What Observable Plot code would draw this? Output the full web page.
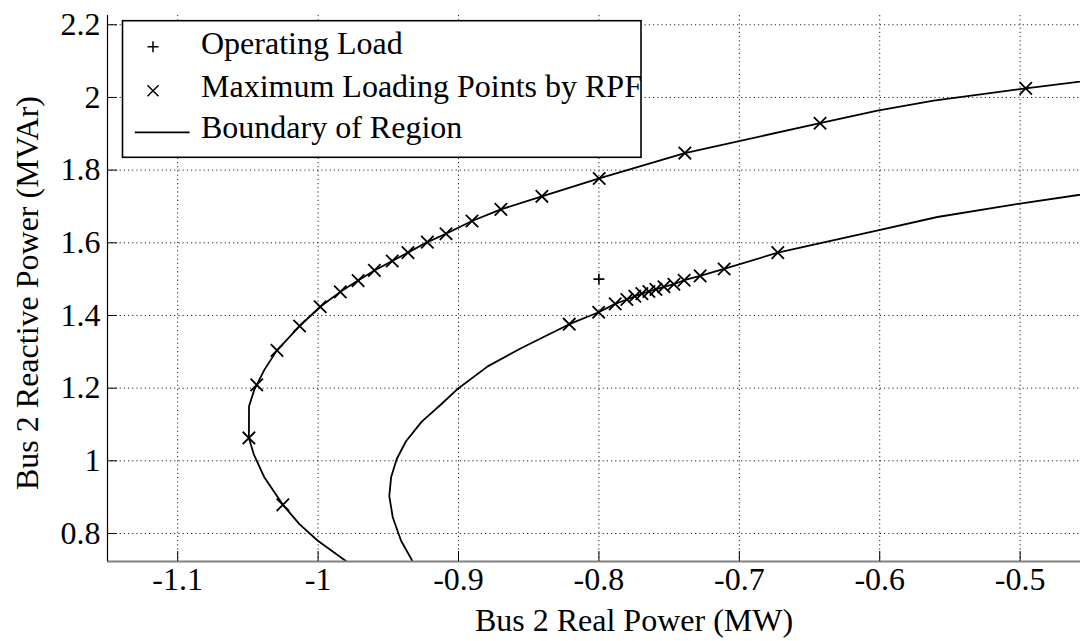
<!DOCTYPE html>
<html><head><meta charset="utf-8">
<script src="https://cdn.jsdelivr.net/npm/d3@7"></script>
<script src="https://cdn.jsdelivr.net/npm/@observablehq/plot@0.6"></script>
<style>
html,body{margin:0;padding:0;background:#fff;overflow:hidden;}
#wrap{position:relative;width:1080px;height:641px;overflow:hidden;}
</style></head><body><div id="wrap"></div>
<script>
// ---- tick values and labels ----
const xTicks = [-1.1, -1, -0.9, -0.8, -0.7, -0.6, -0.5];
const xTickLabels = ["-1.1", "-1", "-0.9", "-0.8", "-0.7", "-0.6", "-0.5"];
const yTicks = [0.8, 1, 1.2, 1.4, 1.6, 1.8, 2, 2.2];
const yTickLabels = ["0.8", "1", "1.2", "1.4", "1.6", "1.8", "2", "2.2"];
const xLimits = [-1.15, -0.4];          // full axis limits (plot is cropped on the right)
const xVisible = [-1.15, -0.457];
const yLimits = [0.723, 2.2255];
const xLabel = "Bus 2 Real Power (MW)";
const yLabel = "Bus 2 Reactive Power (MVAr)";
const legendLabels = ["Operating Load", "Maximum Loading Points by RPF", "Boundary of Region"];

// ---- outer boundary curve ----
const outerP = [-0.9747, -1.0002, -1.0133, -1.0251, -1.0382, -1.0458, -1.0493, -1.0492, -1.0454, -1.0437, -1.0382,
  -1.0293, -1.0132, -0.9985, -0.9842, -0.9715, -0.9599, -0.9472, -0.9360, -0.9222, -0.9089, -0.8904, -0.8698,
  -0.8406, -0.7998, -0.7388, -0.6425, -0.6016, -0.5616, -0.4960, -0.4400];
const outerQ = [0.709, 0.780, 0.826, 0.879, 0.954, 1.018, 1.063, 1.150, 1.196, 1.209, 1.251,
  1.304, 1.371, 1.424, 1.465, 1.496, 1.524, 1.550, 1.573, 1.602, 1.625, 1.660, 1.692,
  1.728, 1.777, 1.847, 1.929, 1.964, 1.991, 2.025, 2.052];

// ---- inner boundary curve ----
const innerP = [-0.9306, -0.9409, -0.9468, -0.9493, -0.9480, -0.9440, -0.9374, -0.9262, -0.9125, -0.9000, -0.8792,
  -0.8555, -0.8211, -0.8002, -0.7884, -0.7801, -0.7744, -0.7694, -0.7644, -0.7594, -0.7537, -0.7466, -0.7393,
  -0.7279, -0.7108, -0.6726, -0.6005, -0.5589, -0.5001, -0.4400];
const innerQ = [0.709, 0.780, 0.844, 0.903, 0.955, 1.005, 1.054, 1.108, 1.155, 1.200, 1.260,
  1.310, 1.376, 1.409, 1.432, 1.444, 1.453, 1.460, 1.466, 1.472, 1.479, 1.486, 1.497,
  1.509, 1.528, 1.573, 1.635, 1.671, 1.708, 1.742];

// ---- maximum loading points by RPF ----
const maxOuterP = [-1.0251, -1.0493, -1.0437, -1.0293, -1.0132, -0.9985, -0.9842, -0.9715, -0.9599, -0.9472,
  -0.9360, -0.9222, -0.9089, -0.8904, -0.8698, -0.8406, -0.7998, -0.7388, -0.6425, -0.4960];
const maxOuterQ = [0.879, 1.063, 1.209, 1.304, 1.371, 1.424, 1.465, 1.496, 1.524, 1.550,
  1.573, 1.602, 1.625, 1.660, 1.692, 1.728, 1.777, 1.847, 1.929, 2.025];
const maxInnerP = [-0.8211, -0.8002, -0.7884, -0.7801, -0.7744, -0.7694, -0.7644, -0.7594, -0.7537, -0.7466,
  -0.7393, -0.7279, -0.7108, -0.6726];
const maxInnerQ = [1.376, 1.409, 1.432, 1.444, 1.453, 1.460, 1.466, 1.472, 1.479, 1.486,
  1.497, 1.509, 1.528, 1.573];

// ---- operating load ----
const opP = [-0.8];
const opQ = [1.5];

// build tables
const zip = (P, Q) => P.map((p, i) => ({p, q: Q[i]}));
const outer = zip(outerP, outerQ);
const inner = zip(innerP, innerQ);
const maxPts = zip(maxOuterP, maxOuterQ).concat(zip(maxInnerP, maxInnerQ));
const op = zip(opP, opQ);

const W = 1080, H = 641, mL = 107, mR = 0, mT = 15, mB = 80;
const tickPx = 10;
const tickDY = tickPx / (H - mT - mB) * (yLimits[1] - yLimits[0]);
const tickDX = tickPx / (W - mL - mR) * (xVisible[1] - xVisible[0]);
const font = "\"Liberation Serif\", Tinos, \"Times New Roman\", \"Nimbus Roman\", \"DejaVu Serif\", serif";

const chart = Plot.plot({
  width: W, height: H,
  marginLeft: mL, marginRight: mR, marginTop: mT, marginBottom: mB,
  x: {domain: xVisible},
  y: {domain: yLimits},
  style: {fontFamily: font, fontSize: "32px", color: "#000", background: "#fff"},
  marks: [
    Plot.gridX(xTicks, {stroke: "#222", strokeOpacity: 1, strokeDasharray: "1.2,3"}),
    Plot.gridY(yTicks, {stroke: "#222", strokeOpacity: 1, strokeDasharray: "1.2,3"}),
    Plot.line(outer, {x: "p", y: "q", stroke: "#000", strokeWidth: 1.8, clip: true}),
    Plot.line(inner, {x: "p", y: "q", stroke: "#000", strokeWidth: 1.8, clip: true}),
    Plot.dot(maxPts, {x: "p", y: "q", symbol: "times", r: 5.7, stroke: "#000", strokeWidth: 1.8}),
    Plot.dot(op, {x: "p", y: "q", symbol: "plus", r: 3.6, stroke: "#000", strokeWidth: 1.6}),
    Plot.ruleY([yLimits[0]], {stroke: "#808080", strokeWidth: 2}),
    Plot.ruleX([xVisible[0]], {stroke: "#000", strokeWidth: 1.2}),
    Plot.ruleX(xTicks, {x: d => d, y1: yLimits[0], y2: yLimits[0] + tickDY, stroke: "#000"}),
    Plot.ruleY(yTicks, {y: d => d, x1: xVisible[0], x2: xVisible[0] + tickDX, stroke: "#000"}),
    Plot.axisX({ticks: xTicks, tickSize: 0, tickPadding: 5.6, fontSize: 32, fontFamily: font,
      tickFormat: d => xTickLabels[xTicks.indexOf(d)], label: null}),
    Plot.axisY({ticks: yTicks, tickSize: 0, tickPadding: 7, fontSize: 32, fontFamily: font,
      tickFormat: d => yTickLabels[yTicks.indexOf(d)], label: null}),
    Plot.text([xLabel], {x: (xLimits[0] + xLimits[1]) / 2, frameAnchor: "bottom", lineAnchor: "bottom",
      textAnchor: "middle", dy: 69.7, fontSize: 32, fontFamily: font, text: d => d}),
    Plot.text([yLabel], {frameAnchor: "left", rotate: -90, lineAnchor: "middle", textAnchor: "middle",
      dx: -79.3, dy: 4.5, fontSize: 32, fontFamily: font, text: d => d})
  ]
});
const wrap = document.getElementById("wrap");
wrap.appendChild(chart);

// ---- legend overlay ----
const leg = d3.select(wrap).append("svg")
  .attr("width", W).attr("height", H)
  .style("position", "absolute").style("left", "0px").style("top", "0px");
leg.append("rect").attr("x", 122.5).attr("y", 20.7).attr("width", 518.5).attr("height", 136.6)
  .attr("fill", "#fff").attr("stroke", "#000").attr("stroke-width", 1.6);
const baselines = [54.3, 96.7, 137.7];
const symY = [46.7, 90.7, 132.3];
legendLabels.forEach((t, i) => {
  leg.append("text").attr("x", 201).attr("y", baselines[i]).attr("fill", "#000")
    .attr("font-family", font).attr("font-size", 32).text(t);
});
const sx = 153;
// plus
leg.append("path").attr("d", `M${sx - 5.5},${symY[0]}H${sx + 5.5}M${sx},${symY[0] - 5.5}V${symY[0] + 5.5}`)
  .attr("stroke", "#000").attr("stroke-width", 1.5).attr("fill", "none");
// times
leg.append("path").attr("d", `M${sx - 5.5},${symY[1] - 5.5}L${sx + 5.5},${symY[1] + 5.5}M${sx - 5.5},${symY[1] + 5.5}L${sx + 5.5},${symY[1] - 5.5}`)
  .attr("stroke", "#000").attr("stroke-width", 1.5).attr("fill", "none");
// line
leg.append("line").attr("x1", 134.8).attr("x2", 189.6).attr("y1", symY[2]).attr("y2", symY[2])
  .attr("stroke", "#000").attr("stroke-width", 1.8);
</script></body></html>
